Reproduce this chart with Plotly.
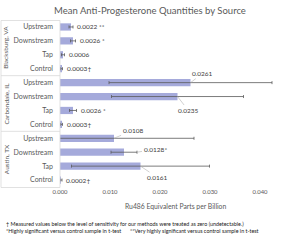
import plotly.graph_objects as go

locations = ["Blacksburg, VA", "Carbondale, IL", "Austin, TX"]
sources = ["Upstream", "Downstream", "Tap", "Control"]
values = {
    "Blacksburg, VA": [0.0022, 0.0026, 0.0006, 0.0003],
    "Carbondale, IL": [0.0261, 0.0235, 0.0026, 0.0003],
    "Austin, TX": [0.0108, 0.0128, 0.0161, 0.0002],
}
errors = {
    "Blacksburg, VA": [0.0004, 0.0005, 0.0003, 0.0002],
    "Carbondale, IL": [0.0163, 0.0132, 0.0007, 0.0002],
    "Austin, TX": [0.0160, 0.0026, 0.0138, 0.0002],
}
labels = {
    "Blacksburg, VA": ["0.0022 **", "0.0026 *", "0.0006", "0.0003†"],
    "Carbondale, IL": ["0.0261", "0.0235", "0.0026 *", "0.0003†"],
    "Austin, TX": ["0.0108", "0.0128*", "0.0161", "0.0002†"],
}
# leader-line label offsets (px, text centre relative to tip); None = plain label
callouts = {
    "Carbondale, IL": [(12, -9, "bar"), (10.5, 13.5, "bar"), None, None],
    "Austin, TX": [(19, -8, "bar"), (18, -3, "err"), (16.5, 11, "bar"), None],
}
x_ticks = [0.0, 0.010, 0.020, 0.030, 0.040]
x_title = "Ru486 Equivalent Parts per Billion"
title = "Mean Anti-Progesterone Quantities by Source"
foot1 = "† Measured values below the level of sensitivity for our methods were treated as zero (undetectable.)"
foot2a = "*Highly significant versus control sample in t-test"
foot2b = "**Very highly significant versus control sample in t-test"

W, H = 300, 249
ML, MR, MT, MB = 60, 10, 20, 62
PW, PH = W - ML - MR, H - MT - MB

def px_x(px):
    return (px - ML) / PW

def px_y(py):
    return (H - MB - py) / PH

FONT = "Lato, Carlito, Calibri, sans-serif"
GRAY = "#595959"

ys, xs, es, ticktext = [], [], [], []
for li, loc in enumerate(locations):
    for si, s in enumerate(sources):
        ys.append(li * 4 + si)
        xs.append(values[loc][si])
        es.append(errors[loc][si])
        ticktext.append(s)

fig = go.Figure()
fig.add_trace(go.Bar(
    x=xs, y=ys, orientation="h", width=0.52,
    marker=dict(color="#A5AADB", line=dict(width=0)),
    error_x=dict(type="data", array=es, color="#5a5a5a", thickness=0.8, width=1.5),
    hoverinfo="skip",
))

LBL = dict(size=6.5, color="#404040", family=FONT)
annotations = []
for li, loc in enumerate(locations):
    co = callouts.get(loc, [None] * 4)
    for si, s in enumerate(sources):
        y = li * 4 + si
        v = values[loc][si]
        e = errors[loc][si]
        c = co[si]
        if c is None:
            annotations.append(dict(x=v + e, y=y, text=labels[loc][si], showarrow=False,
                                    xanchor="left", yanchor="middle", xshift=2, font=LBL))
        else:
            ax, ay, tip = c
            annotations.append(dict(x=(v if tip == "bar" else v + e), y=y, text=labels[loc][si],
                                    showarrow=True, arrowhead=0, arrowwidth=0.6, arrowcolor="#b0b0b0",
                                    ax=ax, ay=ay, xanchor="center", yanchor="middle", standoff=0,
                                    font=LBL))

for li, loc in enumerate(locations):
    annotations.append(dict(xref="paper", yref="y", x=px_x(6), y=li * 4 + 1.5, text=loc,
                            textangle=-90, showarrow=False, xanchor="center", yanchor="middle",
                            font=dict(size=6.5, color=GRAY, family=FONT)))

FOOT = dict(size=5.4, color="#222222", family=FONT)
annotations += [
    dict(xref="paper", yref="paper", x=px_x(175), y=px_y(206), text=x_title, showarrow=False,
         xanchor="center", yanchor="middle", font=dict(size=6.8, color=GRAY, family=FONT)),
    dict(xref="paper", yref="paper", x=px_x(4), y=px_y(224), text=foot1, showarrow=False,
         xanchor="left", yanchor="middle", font=FOOT),
    dict(xref="paper", yref="paper", x=px_x(4), y=px_y(231), text=foot2a, showarrow=False,
         xanchor="left", yanchor="middle", font=FOOT),
    dict(xref="paper", yref="paper", x=px_x(128), y=px_y(231), text=foot2b, showarrow=False,
         xanchor="left", yanchor="middle", font=FOOT),
]

line = dict(color="#d9d9d9", width=0.8)
shapes = [
    dict(type="rect", xref="paper", yref="paper", x0=px_x(1), x1=0, y0=px_y(187.5), y1=px_y(20.5), line=line),
    dict(type="line", xref="paper", yref="y", x0=px_x(1), x1=0, y0=3.5, y1=3.5, line=line),
    dict(type="line", xref="paper", yref="y", x0=px_x(1), x1=0, y0=7.5, y1=7.5, line=line),
]

fig.update_layout(
    width=W, height=H, margin=dict(l=ML, r=MR, t=MT, b=MB),
    paper_bgcolor="white", plot_bgcolor="white", showlegend=False,
    font=dict(family=FONT, color=GRAY),
    title=dict(text=title, x=0.5, xref="container", xanchor="center",
               y=1 - 11 / H, yref="container", yanchor="middle",
               font=dict(size=9.5, color=GRAY, family=FONT)),
    xaxis=dict(range=[0, 0.046], tickvals=x_ticks, tickformat=".3f", showgrid=False,
               zeroline=False, showline=False, ticks="", tickfont=dict(size=5.9, color=GRAY)),
    yaxis=dict(range=[11.5, -0.5], tickvals=ys, ticktext=ticktext, showgrid=False,
               zeroline=False, showline=False, ticks="", ticklabelstandoff=6,
               tickfont=dict(size=7, color=GRAY)),
    annotations=annotations, shapes=shapes,
)
fig.write_html("out.html")
